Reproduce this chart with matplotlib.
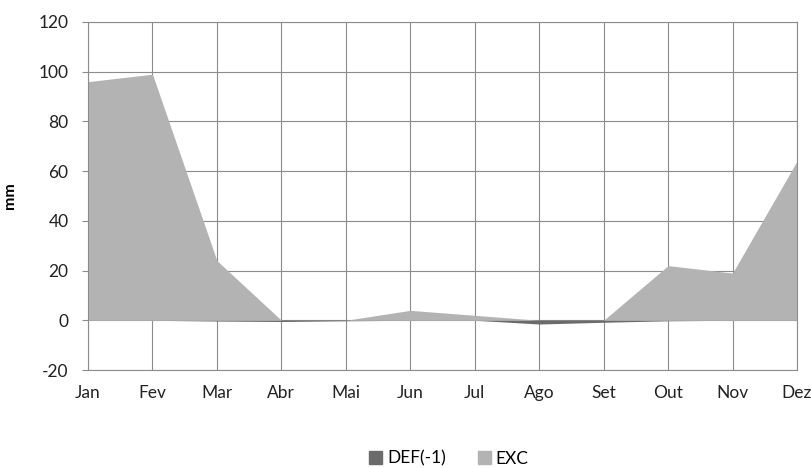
import matplotlib
matplotlib.use("Agg")
import matplotlib.pyplot as plt
from matplotlib.patches import Patch

months = ["Jan", "Fev", "Mar", "Abr", "Mai", "Jun", "Jul", "Ago", "Set", "Out", "Nov", "Dez"]
exc = [96, 99, 24, 0, 0, 4, 2, 0, 0, 22, 19, 64]
deficit = [0, 0, -0.3, -0.5, -0.2, 0, 0, -1.5, -0.8, -0.2, 0, 0]
yticks = list(range(-20, 121, 20))

DEF_COLOR = "#6b6b6b"
EXC_COLOR = "#b3b3b3"
GRID_COLOR = "#8c8c8c"

plt.rcParams["font.family"] = ["Lato", "DejaVu Sans"]
plt.rcParams["axes.unicode_minus"] = False

fig = plt.figure(figsize=(8.12, 4.68), dpi=100)
ax = fig.add_axes([0.1084, 0.2094, 0.8731, 0.7436])

x = list(range(len(months)))
ax.fill_between(x, 0, deficit, color=DEF_COLOR, linewidth=0)
ax.fill_between(x, 0, exc, color=EXC_COLOR, linewidth=0)

ax.set_xlim(0, len(months) - 1)
ax.set_ylim(-20, 120)
ax.set_yticks(yticks)
ax.set_xticks(x)
ax.set_xticklabels(months)

ax.grid(True, color=GRID_COLOR, linewidth=0.8)
ax.set_axisbelow(True)
for sp in ax.spines.values():
    sp.set_color(GRID_COLOR)
    sp.set_linewidth(0.8)
ax.tick_params(axis="y", length=4, width=0.8, color=GRID_COLOR, labelsize=12.5,
               labelcolor="#222222", pad=10)
ax.tick_params(axis="x", length=0, labelsize=12.5, labelcolor="#222222", pad=11)

ax.set_ylabel("mm", fontsize=11.5, fontweight="bold")
ax.yaxis.set_label_coords(-0.1, 0.5)

handles = [Patch(color=DEF_COLOR, label="DEF(-1)"), Patch(color=EXC_COLOR, label="EXC")]
fig.legend(handles=handles, loc="center", bbox_to_anchor=(0.553, 0.02), ncol=2,
           frameon=False, fontsize=12.5, handlelength=0.75, handleheight=0.75,
           handletextpad=0.3, columnspacing=1.8, borderpad=0)

fig.savefig("out.png", dpi=100)
